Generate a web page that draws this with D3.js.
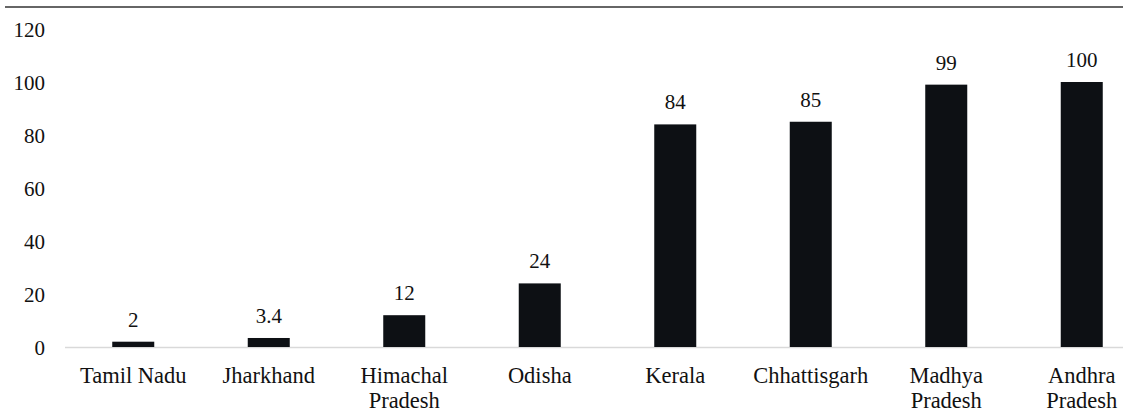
<!DOCTYPE html>
<html><head><meta charset="utf-8">
<script src="https://cdn.jsdelivr.net/npm/d3@7"></script>
<style>
html,body{margin:0;padding:0;background:#fff;overflow:hidden}
svg text, svg tspan { font-family: "Liberation Serif", Tinos, "Times New Roman", serif !important; }
</style>
</head><body>
<svg id="c" width="1123" height="412"></svg>
<script>
const categories = ["Tamil Nadu","Jharkhand","Himachal Pradesh","Odisha","Kerala","Chhattisgarh","Madhya Pradesh","Andhra Pradesh"];
const values = [2, 3.4, 12, 24, 84, 85, 99, 100];
const valueLabels = ["2","3.4","12","24","84","85","99","100"];
const yTicks = [0,20,40,60,80,100,120];

const svg = d3.select("#c");

svg.append("line").attr("x1",5).attr("x2",1123).attr("y1",7).attr("y2",7)
  .attr("stroke","#666").attr("stroke-width",2.2);

const x = d3.scaleBand().domain(categories).range([65.5,1149.5]).paddingInner(0.69).paddingOuter(0.345);
const y = d3.scaleLinear().domain([0,120]).range([347,29]);

// y axis labels
const yAxis = d3.axisLeft(y).tickValues(yTicks).tickSize(0).tickPadding(0).tickFormat(d3.format("d"));
const ga = svg.append("g").attr("transform","translate(45,0)").call(yAxis);
ga.select(".domain").remove();
ga.attr("font-family","Liberation Serif").attr("font-size",21);
ga.selectAll("text").attr("fill","#111").attr("dy","0.34em");

// baseline
svg.append("line").attr("x1",65).attr("x2",1123).attr("y1",y(0)+0.5).attr("y2",y(0)+0.5)
  .attr("stroke","#d9d9d9").attr("stroke-width",1.5);

// bars
svg.selectAll("rect.bar").data(values).enter().append("rect")
  .attr("x",(d,i)=>x(categories[i]))
  .attr("width",x.bandwidth())
  .attr("y",d=>y(d))
  .attr("height",d=>y(0)-y(d))
  .attr("fill","#0d1014");

// value labels
svg.selectAll("text.val").data(values).enter().append("text")
  .attr("x",(d,i)=>x(categories[i])+x.bandwidth()/2)
  .attr("y",d=>y(d)-15)
  .attr("text-anchor","middle")
  .attr("font-family","Liberation Serif").attr("font-size",21).attr("fill","#111")
  .text((d,i)=>valueLabels[i]);

// category labels
const gx = svg.append("g");
categories.forEach(c=>{
  const words = c.split(" ");
  const lines = (c==="Tamil Nadu") ? [c] : words;
  const t = gx.append("text").attr("text-anchor","middle")
    .attr("font-family","Liberation Serif").attr("font-size",22.5).attr("fill","#111");
  lines.forEach((w,j)=>{
    t.append("tspan").attr("x",x(c)+x.bandwidth()/2).attr("y",383+j*24.5).text(w);
  });
});
</script>
</body></html>
